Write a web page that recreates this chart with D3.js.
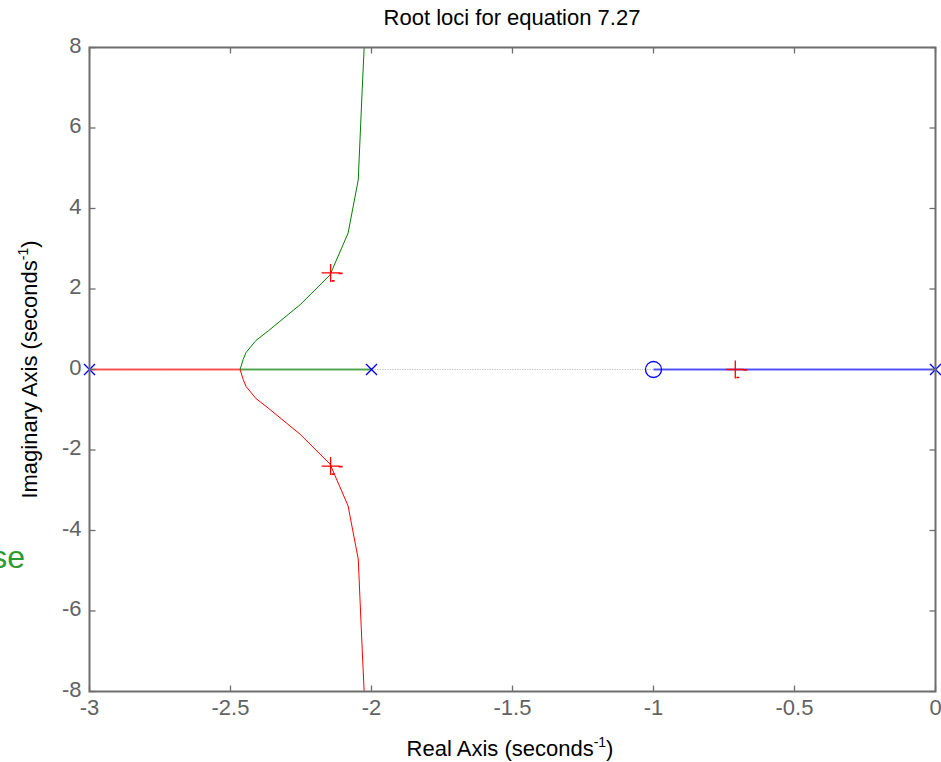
<!DOCTYPE html>
<html>
<head>
<meta charset="utf-8">
<script src="https://cdn.jsdelivr.net/npm/d3@7"></script>
<style>
  html, body { margin: 0; padding: 0; background: #fff; }
  svg { display: block; font-family: "Liberation Sans", Arial, Helvetica, sans-serif; }
</style>
</head>
<body>
<svg id="chart" width="941" height="762"></svg>
<script>
// Open-loop poles and zeros of G(s) = (s+1) / (s (s+2) (s+3))
const openPoles = [-3, -2, 0];
const openZeros = [-1];

// Root-locus branches as [real, imag] pairs
const branchBlue = [[0, 0], [-0.3, 0], [-0.6, 0], [-0.85, 0], [-1, 0]];
const branchGreen = [
  [-2, 0], [-2.2, 0], [-2.4, 0], [-2.466, 0],
  [-2.455, 0.25], [-2.445, 0.42], [-2.41, 0.72], [-2.366, 0.96],
  [-2.253, 1.61], [-2.147, 2.35], [-2.083, 3.39], [-2.047, 4.71],
  [-2.033, 6.95], [-2.026, 8.0]
];
const branchRed = [
  [-3, 0], [-2.8, 0], [-2.6, 0], [-2.466, 0],
  [-2.455, -0.25], [-2.445, -0.42], [-2.41, -0.72], [-2.366, -0.96],
  [-2.253, -1.61], [-2.147, -2.35], [-2.083, -3.39], [-2.047, -4.71],
  [-2.033, -6.95], [-2.026, -8.0]
];

// Closed-loop poles at the selected gain
const closedPoles = [[-2.145, 2.4], [-2.145, -2.4], [-0.71, 0]];

// Axis ticks
const xTicks = [-3, -2.5, -2, -1.5, -1, -0.5, 0];
const yTicks = [-8, -6, -4, -2, 0, 2, 4, 6, 8];
const xTickLabels = ["-3", "-2.5", "-2", "-1.5", "-1", "-0.5", "0"];
const yTickLabels = ["-8", "-6", "-4", "-2", "0", "2", "4", "6", "8"];

const svg = d3.select("#chart");
const boxL = 89.5, boxR = 935.5, boxT = 47.5, boxB = 691.5;

const x = d3.scaleLinear().domain([-3, 0]).range([boxL, boxR]);
const y = d3.scaleLinear().domain([-8, 8]).range([boxB, boxT]);

const axisColor = "#6e6e6e";
const labelColor = "#626262";

// Clip curves to the plot box
svg.append("defs").append("clipPath").attr("id", "plotclip")
  .append("rect").attr("x", boxL).attr("y", boxT)
  .attr("width", boxR - boxL).attr("height", boxB - boxT);

const plot = svg.append("g").attr("clip-path", "url(#plotclip)");

// Faint dotted real-axis reference
plot.append("line")
  .attr("x1", x(-3)).attr("x2", x(0))
  .attr("y1", y(0)).attr("y2", y(0))
  .attr("stroke", "#c8c8c8").attr("stroke-width", 1.2)
  .attr("stroke-dasharray", "1.5,1");

const line = d3.line().x(d => x(d[0])).y(d => y(d[1]));

function drawBranch(pts, color) {
  // horizontal part rendered a little heavier, as on the real axis
  const onAxis = pts.filter(p => p[1] === 0);
  plot.append("path").datum(onAxis).attr("d", line)
    .attr("fill", "none").attr("stroke", color)
    .attr("stroke-opacity", 0.65).attr("stroke-width", 2);
  const offAxis = pts.slice(onAxis.length - 1);
  if (offAxis.length > 1) {
    plot.append("path").datum(offAxis).attr("d", line)
      .attr("fill", "none").attr("stroke", color).attr("stroke-width", 1);
  }
}
drawBranch(branchBlue, "#0000ff");
drawBranch(branchGreen, "#008000");
drawBranch(branchRed, "#ff0000");

// Open-loop pole markers (x)
const mk = 5.5;
svg.append("g").selectAll("path.pole").data(openPoles).join("path")
  .attr("class", "pole")
  .attr("d", d => {
    const cx = x(d), cy = y(0);
    return `M${cx - mk},${cy - mk}L${cx + mk},${cy + mk}M${cx - mk},${cy + mk}L${cx + mk},${cy - mk}`;
  })
  .attr("stroke", "#0000ff").attr("stroke-width", 1.4).attr("fill", "none");

// Open-loop zero markers (o)
svg.append("g").selectAll("circle.zero").data(openZeros).join("circle")
  .attr("class", "zero")
  .attr("cx", d => x(d)).attr("cy", y(0)).attr("r", 8)
  .attr("stroke", "#0000ff").attr("stroke-width", 1.3).attr("fill", "none");

// Closed-loop pole markers (+)
const pk = 9;
const plus = svg.append("g").selectAll("g.cl").data(closedPoles).join("g")
  .attr("class", "cl")
  .attr("transform", d => `translate(${x(d[0])},${y(d[1])})`);
plus.append("path")
  .attr("d", `M${-pk},0L${pk},0M0,${-pk}L0,${pk}`)
  .attr("stroke", "#ff0000").attr("stroke-width", 1.3).attr("fill", "none");
plus.append("path")
  .attr("d", `M${pk - 1},0.5L${pk + 3},0.5M1,${pk - 1}L4,${pk - 1}`)
  .attr("stroke", "#ff0000").attr("stroke-width", 1.6).attr("fill", "none");

// Axes box
svg.append("rect")
  .attr("x", boxL).attr("y", boxT)
  .attr("width", boxR - boxL).attr("height", boxB - boxT)
  .attr("fill", "none").attr("stroke", axisColor).attr("stroke-width", 2);

// Inward tick marks on all four sides
const tl = 6;
const ticks = svg.append("g").attr("stroke", axisColor).attr("stroke-width", 1.3);
xTicks.forEach(v => {
  ticks.append("line").attr("x1", x(v)).attr("x2", x(v)).attr("y1", boxB).attr("y2", boxB - tl);
  ticks.append("line").attr("x1", x(v)).attr("x2", x(v)).attr("y1", boxT).attr("y2", boxT + tl);
});
yTicks.forEach(v => {
  ticks.append("line").attr("x1", boxL).attr("x2", boxL + tl).attr("y1", y(v)).attr("y2", y(v));
  ticks.append("line").attr("x1", boxR).attr("x2", boxR - tl).attr("y1", y(v)).attr("y2", y(v));
});

// Tick labels
const tickFont = 22;
svg.append("g").selectAll("text").data(xTicks).join("text")
  .attr("x", d => x(d)).attr("y", boxB + 23)
  .attr("text-anchor", "middle")
  .attr("font-size", tickFont).attr("fill", labelColor)
  .text((d, i) => xTickLabels[i]);

svg.append("g").selectAll("text").data(yTicks).join("text")
  .attr("x", boxL - 8).attr("y", d => y(d) + 5)
  .attr("text-anchor", "end")
  .attr("font-size", tickFont).attr("fill", labelColor)
  .text((d, i) => yTickLabels[i]);

// Title
svg.append("text")
  .attr("x", 512).attr("y", 25)
  .attr("text-anchor", "middle").attr("font-size", 22).attr("fill", "#000")
  .text("Root loci for equation 7.27");

// X axis label
const xl = svg.append("text")
  .attr("x", 510).attr("y", 756)
  .attr("text-anchor", "middle").attr("font-size", 22).attr("fill", "#000");
xl.append("tspan").text("Real Axis (seconds");
xl.append("tspan").attr("font-size", 14).attr("dy", -9).text("-1");
xl.append("tspan").attr("dy", 9).text(")");

// Y axis label
const yl = svg.append("text")
  .attr("transform", `translate(37,${(boxT + boxB) / 2}) rotate(-90)`)
  .attr("text-anchor", "middle").attr("font-size", 22).attr("fill", "#000");
yl.append("tspan").text("Imaginary Axis (seconds");
yl.append("tspan").attr("font-size", 14).attr("dy", -9).text("-1");
yl.append("tspan").attr("dy", 9).text(")");

// Stray legend text partly outside the figure
svg.append("text")
  .attr("x", 25).attr("y", 568)
  .attr("text-anchor", "end").attr("font-size", 32).attr("fill", "#2e9a2e")
  .text("se");
</script>
</body>
</html>
